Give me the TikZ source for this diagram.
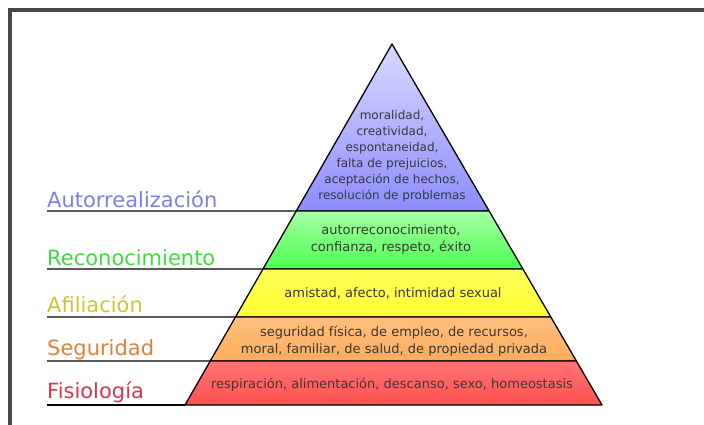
\documentclass[tikz,border=0pt]{standalone}
\usepackage{fontspec}
\setmainfont{DejaVu Sans}
\usetikzlibrary{calc}

\definecolor{autocol}{HTML}{7F7FDF}
\definecolor{recocol}{HTML}{3DDC3D}
\definecolor{aficol}{HTML}{C8C832}
\definecolor{segucol}{HTML}{E0813A}
\definecolor{fisiocol}{HTML}{DC3445}

\begin{document}
\begin{tikzpicture}[x=1pt,y=-1pt,
  level/.style={draw=black,line width=1.3pt,line join=round},
  tag/.style={anchor=base west,inner sep=0pt,font=\fontsize{21}{25}\selectfont},
  info/.style={align=center,inner sep=0pt,text=black!78,font=\fontsize{13}{17}\selectfont}]
\useasboundingbox (0,0) rectangle (704,425);
\draw[line width=4pt,draw=black!72] (10,425) -- (10,10) -- (704,10);

\coordinate (top) at (392,44);
\coordinate (bl) at (185,405);
\coordinate (br) at (602,405);
\coordinate (l1) at ($(top)!0.4626!(bl)$);
\coordinate (r1) at ($(top)!0.4626!(br)$);
\coordinate (l2) at ($(top)!0.6233!(bl)$);
\coordinate (r2) at ($(top)!0.6233!(br)$);
\coordinate (l3) at ($(top)!0.7562!(bl)$);
\coordinate (r3) at ($(top)!0.7562!(br)$);
\coordinate (l4) at ($(top)!0.8781!(bl)$);
\coordinate (r4) at ($(top)!0.8781!(br)$);

\draw[level,top color=blue!15,bottom color=blue!45!white] (top) -- (r1) -- (l1) -- cycle;
\draw[level,top color=green!35!white,bottom color=green!70!white] (l1) -- (r1) -- (r2) -- (l2) -- cycle;
\draw[level,top color=yellow!65!white,bottom color=yellow!80!white] (l2) -- (r2) -- (r3) -- (l3) -- cycle;
\draw[level,top color=orange!50!white,bottom color=orange!65!white] (l3) -- (r3) -- (r4) -- (l4) -- cycle;
\draw[level,top color=red!55!white,bottom color=red!68!white] (l4) -- (r4) -- (br) -- (bl) -- cycle;

\coordinate (a1) at (47,211);
\coordinate (a2) at (47,269);
\coordinate (a3) at (47,317);
\coordinate (a4) at (47,361);
\coordinate (a5) at (47,405);
\draw[line width=1.3pt] (a1) -- (l1);
\draw[line width=1.3pt] (a2) -- (l2);
\draw[line width=1.3pt] (a3) -- (l3);
\draw[line width=1.3pt] (a4) -- (l4);
\draw[line width=1.3pt] (a5) -- (bl);

\node[tag,text=autocol] (autorrealizacion) at (47,207) {Autorrealización};
\node[tag,text=recocol] (reconocimiento) at (47,265) {Reconocimiento};
\node[tag,text=aficol] (afiliacion) at (47,312) {Afiliación};
\node[tag,text=segucol] (seguridad) at (47,355) {Seguridad};
\node[tag,text=fisiocol] (fisiologia) at (47,398) {Fisiología};

\node[info,font=\fontsize{12}{16}\selectfont] (moral) at (392,156) {moralidad,\\creatividad,\\espontaneidad,\\falta de prejuicios,\\aceptación de hechos,\\resolución de problemas};
\node[info] (estima) at (391,239) {autorreconocimiento,\\confianza, respeto, éxito};
\node[info] (amistad) at (393,293) {amistad, afecto, intimidad sexual};
\node[info] (fisica) at (394,341) {seguridad física, de empleo, de recursos,\\moral, familiar, de salud, de propiedad privada};
\node[info] (respira) at (392,385) {respiración, alimentación, descanso, sexo, homeostasis};
\end{tikzpicture}
\end{document}
